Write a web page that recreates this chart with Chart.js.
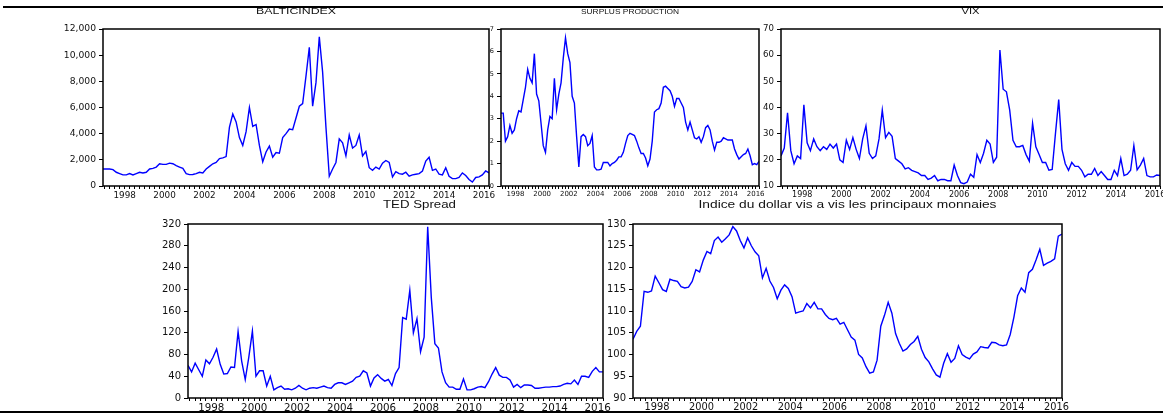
<!DOCTYPE html>
<html><head><meta charset="utf-8">
<script src="https://cdn.jsdelivr.net/npm/chart.js@4.4.0/dist/chart.umd.min.js"></script>
<style>
html,body{margin:0;padding:0;background:#fff;width:1163px;height:414px;overflow:hidden;position:relative}
canvas{position:absolute}
.rule{position:absolute;background:#000}
</style></head><body>
<div class="rule" style="left:3px;top:6px;width:1160px;height:2px"></div>
<div class="rule" style="left:0;top:411px;width:1163px;height:2px"></div>
<canvas id="c1"></canvas><canvas id="c2"></canvas><canvas id="c3"></canvas><canvas id="c4"></canvas><canvas id="c5"></canvas>
<script>
// observations: every second month starting June 1997
const firstMonthOffset = 5;
const monthStep = 2;
const yearLabels = [1998,2000,2002,2004,2006,2008,2010,2012,2014,2016];

const balticIndex = [1300,1300,1300,1250,1050,950,850,850,950,850,
 950,1050,1000,1050,1300,1350,1450,1700,1650,1650,
 1750,1700,1550,1450,1350,950,870,880,950,1050,
 1000,1300,1500,1700,1800,2100,2150,2250,4500,5500,
 4900,3700,3100,4150,6000,4550,4700,3100,1850,2600,
 3050,2200,2550,2500,3700,4000,4350,4300,5200,6100,
 6300,8400,10600,6100,7900,11400,8700,4500,750,1300,
 1800,3600,3300,2300,3900,2900,3100,3900,2300,2650,
 1400,1200,1450,1300,1750,1950,1800,700,1100,950,
 900,1050,750,850,900,950,1150,1900,2200,1200,
 1300,900,850,1400,750,560,560,650,1000,800,
 500,300,650,700,850,1150,1000];

const surplusProduction = [3.25,3.25,2.0,2.2,2.7,2.35,2.5,3.0,3.35,3.3,
 3.85,4.4,5.2,4.8,4.6,5.9,4.1,3.8,2.8,1.8,
 1.5,2.5,3.1,3.0,4.8,3.4,4.1,4.6,5.7,6.6,
 5.9,5.5,4.0,3.7,2.2,0.85,2.2,2.3,2.2,1.8,
 1.9,2.25,0.85,0.72,0.72,0.75,1.05,1.05,1.05,0.9,
 1.0,1.05,1.15,1.3,1.3,1.5,1.9,2.25,2.35,2.3,
 2.25,2.0,1.7,1.45,1.45,1.25,0.9,1.2,2.0,3.3,
 3.4,3.45,3.7,4.4,4.45,4.35,4.25,4.0,3.55,3.9,
 3.9,3.7,3.5,2.85,2.5,2.85,2.5,2.15,2.1,2.2,
 1.95,2.2,2.6,2.7,2.5,2.0,1.6,1.95,1.95,2.0,
 2.15,2.1,2.05,2.05,2.05,1.65,1.4,1.2,1.3,1.4,
 1.45,1.65,1.35,0.95,1.0,0.95,1.1];

const vix = [21.5,24.5,38,23.5,18.5,21.5,20.5,41,26.5,23.5,
 28,25,23.5,25,24,26,24.5,26,20,19,
 27.5,24,28.5,24,20.5,28,33,22.5,20.5,21.5,
 28,39,28.5,30.5,29,20.5,19.5,18.5,16.5,17,
 16,15.5,15,14,14,12.5,13,14,12,12.5,
 12.5,12,12,18,14,11.3,10.9,11.5,14.5,13.3,
 22,19,22.5,27.5,26,19,21,62,47,46,
 39,27.5,25,25,25.5,22,19.5,34,25,22,
 19,19,16,16.3,30,43,24,18.5,16,19,
 17.5,17.5,16,13.5,14.5,14.5,16.7,14,15.5,14,
 12.5,12.5,16,14,20.5,14,14.5,16,25.5,16.2,
 18,20.5,14,13.5,13.5,14.2,14];

const tedSpread = [60,48,64,52,40,70,63,75,90,62,
 44,45,57,56,122,68,34,75,123,40,
 50,50,22,40,15,19,22,16,17,15,
 18,23,18,15,18,19,18,20,22,19,
 18,25,28,28,25,28,31,38,40,50,
 46,22,37,43,36,31,34,23,45,56,
 148,145,198,120,146,85,112,315,185,100,
 92,48,28,20,20,16,16,35,15,15,
 17,20,21,19,30,44,56,42,38,38,
 33,20,25,19,24,24,23,18,18,19,
 20,20,21,21,22,25,27,26,33,25,
 40,40,38,49,56,48,48];

const dollarIndex = [103.5,105.3,106.5,114.5,114.3,114.6,118,116.5,114.9,114.5,
 117.3,117,116.8,115.6,115.3,115.5,116.8,119.5,119,121.7,
 123.7,123.2,126.2,127,125.8,126.6,127.5,129.4,128.4,126.2,
 124.5,126.8,125,123.6,122.7,117.6,119.8,116.9,115.4,112.8,
 114.8,116,115.2,113.3,109.5,109.8,110,111.7,110.7,112,
 110.5,110.5,109.2,108.3,108,108.3,107,107.4,105.7,104,
 103.3,100,99.2,97.2,95.7,96,98.7,106.5,109,112,
 109.5,104.8,102.6,100.8,101.3,102.3,103,104.2,101.2,99.3,
 98.3,96.7,95.3,94.8,98,100.2,98.2,99.1,102,100,
 99.4,99,100.1,100.6,101.8,101.6,101.5,102.8,102.7,102.2,
 102,102.2,104.6,108.6,113.5,115.3,114.3,118.8,119.6,121.8,
 124.2,120.5,121,121.4,122,127.2,127.7];

const titles = ['BALTICINDEX','SURPLUS PRODUCTION','VIX','TED Spread','Indice du dollar vis a vis les principaux monnaies'];

function obsDate(i){ return 1997 + (firstMonthOffset + i*monthStep)/12; }

const panels = [
 {id:'c1', values:balticIndex, title:titles[0], L:103,T:29,R:489,B:186, tSize:8.5, tW:80, tDx:0, tDy:17, yMin:0,yMax:12000,yStep:2000, yFont:9.2, xFont:8.8, comma:true},
 {id:'c2', values:surplusProduction, title:titles[1], L:501,T:29,R:759,B:186, tSize:8, tW:98, tDx:0, tDy:17, yMin:0,yMax:7,yStep:1, yFont:6.5, xFont:7},
 {id:'c3', values:vix, title:titles[2], L:781,T:29,R:1160,B:186, tSize:8.5, tW:18, tDx:0, tDy:17, yMin:10,yMax:70,yStep:10, yFont:8.6, xFont:8},
 {id:'c4', values:tedSpread, title:titles[3], L:188,T:224,R:603,B:398, tSize:10.5, tW:73, tDx:24, tDy:19, yMin:0,yMax:320,yStep:40, yFont:10, xFont:10.3},
 {id:'c5', values:dollarIndex, title:titles[4], L:633,T:224,R:1062,B:398, tSize:10.5, tW:298, tDx:0, tDy:19, yMin:90,yMax:130,yStep:5, yFont:10, xFont:9.8}
];

const PADL = 60, PADT = 26, PADR = 22, PADB = 22;

panels.forEach(p => {
  const cv = document.getElementById(p.id);
  const w = (p.R - p.L) + PADL + PADR, h = (p.B - p.T) + PADT + PADB;
  cv.width = w; cv.height = h;
  cv.style.left = (p.L - PADL) + 'px'; cv.style.top = (p.T - PADT) + 'px';
  cv.style.width = w + 'px'; cv.style.height = h + 'px';
  const pts = p.values.map((v,i) => ({x: obsDate(i), y: v}));
  const xMin = obsDate(0), xMax = obsDate(p.values.length - 1);
  const frame = {
    id: 'frame_' + p.id,
    afterDraw(chart){
      const a = chart.chartArea, ctx = chart.ctx;
      ctx.save();
      ctx.strokeStyle = '#000'; ctx.lineWidth = 1.5;
      ctx.strokeRect(a.left, a.top, a.right - a.left, a.bottom - a.top);
      ctx.font = p.tSize + 'px "Liberation Sans", Arial, sans-serif';
      const mw = ctx.measureText(p.title).width;
      ctx.translate((a.left + a.right)/2 + p.tDx, a.top - p.tDy);
      ctx.scale(p.tW / mw, 1);
      ctx.fillStyle = '#111'; ctx.textAlign = 'center'; ctx.textBaseline = 'middle';
      ctx.fillText(p.title, 0, 0);
      ctx.restore();
    }
  };
  new Chart(cv, {
    type: 'line',
    data: { datasets: [{ data: pts, borderColor: '#0000ff', borderWidth: 1.4, pointRadius: 0, tension: 0, fill: false }] },
    options: {
      responsive: false, animation: false, devicePixelRatio: 1,
      layout: { padding: { top: PADT, right: PADR, left: 0, bottom: 0 } },
      plugins: { legend: { display: false }, tooltip: { enabled: false }, title: { display: false } },
      scales: {
        x: {
          type: 'linear', min: xMin, max: xMax,
          afterFit(s){ s.height = PADB; },
          afterBuildTicks(s){
            const t = [];
            for (let q = Math.ceil(xMin*4)/4; q <= xMax + 1e-9; q += 0.25) t.push({value: q});
            s.ticks = t;
          },
          ticks: {
            autoSkip: false, maxRotation: 0, minRotation: 0, padding: 1, color: '#111',
            font: { family: '"DejaVu Sans", sans-serif', size: p.xFont },
            callback(v){
              const y = v - 0.5;
              return yearLabels.includes(y) ? String(y) : '';
            }
          },
          grid: { drawOnChartArea: false, drawTicks: true, tickLength: 3, color: '#000', lineWidth: 1 },
          border: { display: false }
        },
        y: {
          min: p.yMin, max: p.yMax,
          afterFit(s){ s.width = PADL; },
          ticks: {
            stepSize: p.yStep, padding: 3, color: '#111',
            font: { family: '"DejaVu Sans", sans-serif', size: p.yFont },
            callback(v){ return p.comma ? v.toLocaleString('en-US') : String(v); }
          },
          grid: { drawOnChartArea: false, drawTicks: true, tickLength: 4, color: '#000', lineWidth: 1 },
          border: { display: false }
        }
      }
    },
    plugins: [frame]
  });
});
</script>
</body></html>
